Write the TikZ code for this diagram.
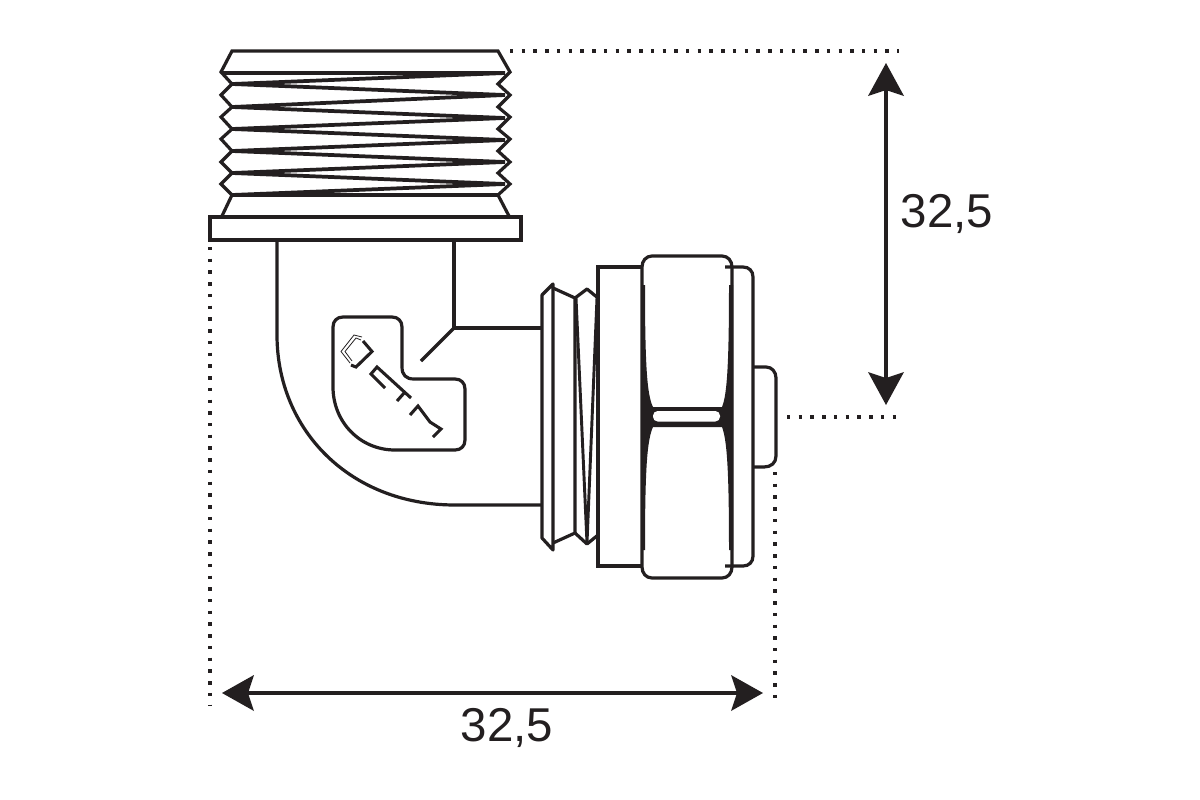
\documentclass[tikz,border=0pt]{standalone}
\usepackage{fontspec}
\setmainfont{Liberation Sans}
\definecolor{ink}{HTML}{231F20}
\tikzset{
 x=0.75pt,y=-0.75pt,
 part/.style={draw=ink,line width=2.4pt,line join=miter,fill=none},
 thin part/.style={draw=ink,line width=2.4pt,line join=round},
 thread/.style={draw=ink,line width=2.8pt,line join=miter,miter limit=20},
 dots/.style={draw=ink,line width=3pt,dash pattern=on 2.6pt off 6.2pt},
 dimline/.style={draw=ink,line width=3pt},
 dimhead/.style={fill=ink,draw=none},
 dimlabel/.style={text=ink,font=\fontsize{35.6}{36}\selectfont,inner sep=0pt},
}
\begin{document}
\begin{tikzpicture}
\useasboundingbox (0,0) rectangle (1200,800);
\fill[white] (0,0) rectangle (1200,800);
% threaded top
\draw[part] (222,216) -- (232,195) -- (221,184) -- (232,173) -- (221,162) -- (232,151) -- (221,139) -- (232,129) -- (221,117) -- (232,107) -- (221,95) -- (232,84) -- (221,72) -- (232,51) -- (498,51) -- (510,72) -- (498,84) -- (510,95) -- (498,107) -- (510,117) -- (498,129) -- (510,139) -- (498,151) -- (510,162) -- (498,173) -- (510,184) -- (498,195) -- (509,216);
\draw[thread] (222,73) -- (505,73) -- (232,84) -- (505,95) -- (232,107) -- (505,118) -- (232,129) -- (505,140) -- (232,151) -- (505,162) -- (232,173) -- (505,184) -- (232,195) -- (498,195);
% flange
\draw[part] (210,217) rectangle (521,240);
% elbow
\draw[thin part] (277,240) -- (277,335) .. controls (277,430) and (350,505) .. (455,505) -- (541,505);
\draw[thin part] (454,240) -- (454,328) -- (541,328);
\draw[thin part] (454,328) -- (421,361);
% logo outline
\draw[thin part] (343,317) -- (392,317) .. controls (398,317) and (402,321) .. (402,327) -- (402,367) .. controls (402,375) and (406,379) .. (414,379) -- (455,379) .. controls (461,379) and (465,383) .. (465,389) -- (465,440) .. controls (465,446) and (461,450) .. (455,450) -- (395,450) .. controls (360,450) and (333,422) .. (333,387) -- (333,327) .. controls (333,321) and (337,317) .. (343,317) -- cycle;
% logo mark
\draw[ink,line width=0.6pt,line join=round] (362,337) -- (354,335) -- (341,351.5) -- (350,363);
\draw[ink,line width=0.6pt,line join=round] (361,340) -- (356,338) -- (345,351.5) -- (352,361);
\draw[ink,line width=2.3pt,line join=miter] (363,341) -- (372,351.5) -- (356,367) -- (351,365);
\draw[ink,line width=2.3pt,line join=miter] (385,388) -- (371,374) -- (377,367) -- (411,398);
\draw[ink,line width=2.3pt] (405,392) -- (397,401);
\draw[ink,line width=2.3pt,line join=miter] (410,415) -- (418,406) -- (430,422) -- (441,429) -- (433,437);
% coupling: collar
\draw[thin part] (542,295) -- (553,284) -- (553,550) -- (542,538) -- cycle;
\draw[thin part] (553,288) -- (575,298) -- (575,533) -- (553,543);
\draw[thin part] (575,298) -- (587,289) -- (598,298);
\draw[thin part] (575,533) -- (587,544) -- (598,535);
\draw[thread,line width=2.2pt] (576,298) -- (587,543) -- (597,298);
% body
\draw[part] (642,267) -- (598,267) -- (598,566) -- (642,566);
% end cap
\draw[part] (725,267) -- (743,267) .. controls (749,267) and (753,271) .. (753,277) -- (753,556) .. controls (753,562) and (749,566) .. (743,566) -- (725,566);
% nut
\draw[part] (652,256) -- (722,256) .. controls (728,256) and (732,261) .. (732,267) -- (732,567) .. controls (732,573) and (728,578) .. (722,578) -- (652,578) .. controls (646,578) and (642,573) .. (642,567) -- (642,267) .. controls (642,261) and (646,256) .. (652,256) -- cycle;
\fill[ink] (642,285) -- (645,285) .. controls (645,365) and (647,395) .. (653,407) -- (722,407) .. controls (727,395) and (729,365) .. (729,285) -- (733,285) -- (733,550) -- (729,550) .. controls (729,470) and (727,440) .. (722,427) -- (653,427) .. controls (647,440) and (645,470) .. (645,550) -- (642,550) -- cycle;
\fill[white,rounded corners=3.5pt] (653,411) -- (720,411) -- (720,421.5) -- (653,421.5) -- cycle;
% tube
\draw[thin part] (754,367) -- (766,367) .. controls (772,367) and (776,372) .. (776,378) -- (776,456) .. controls (776,463) and (771,467) .. (764,467) -- (754,467);
% extension lines
\coordinate (topA) at (510,51); \coordinate (topB) at (899,51);
\coordinate (midA) at (787,417); \coordinate (midB) at (899,417);
\coordinate (leftA) at (210,247); \coordinate (leftB) at (210,706);
\coordinate (rightA) at (775,472); \coordinate (rightB) at (775,706);
\draw[dots] (topA) -- (topB);
\draw[dots] (midA) -- (midB);
\draw[dots] (leftA) -- (leftB);
\draw[dots] (rightA) -- (rightB);
% dimensions
\coordinate (vT) at (886,63); \coordinate (vB) at (886,405);
\coordinate (hL) at (222,693); \coordinate (hR) at (763,693);
\draw[dimline] (886,85) -- (886,385);
\draw[dimline] (245,693) -- (740,693);
\fill[dimhead] (vT) -- (904,96) -- (886,90) -- (868,96) -- cycle;
\fill[dimhead] (vB) -- (904,372) -- (886,378) -- (868,372) -- cycle;
\fill[dimhead] (hL) -- (254,675) -- (248,693) -- (254,711) -- cycle;
\fill[dimhead] (hR) -- (731,675) -- (737,693) -- (731,711) -- cycle;
\node[dimlabel] (labV) at (947,214) {32,5};
\node[dimlabel] (labH) at (507,728) {32,5};
\end{tikzpicture}
\end{document}
